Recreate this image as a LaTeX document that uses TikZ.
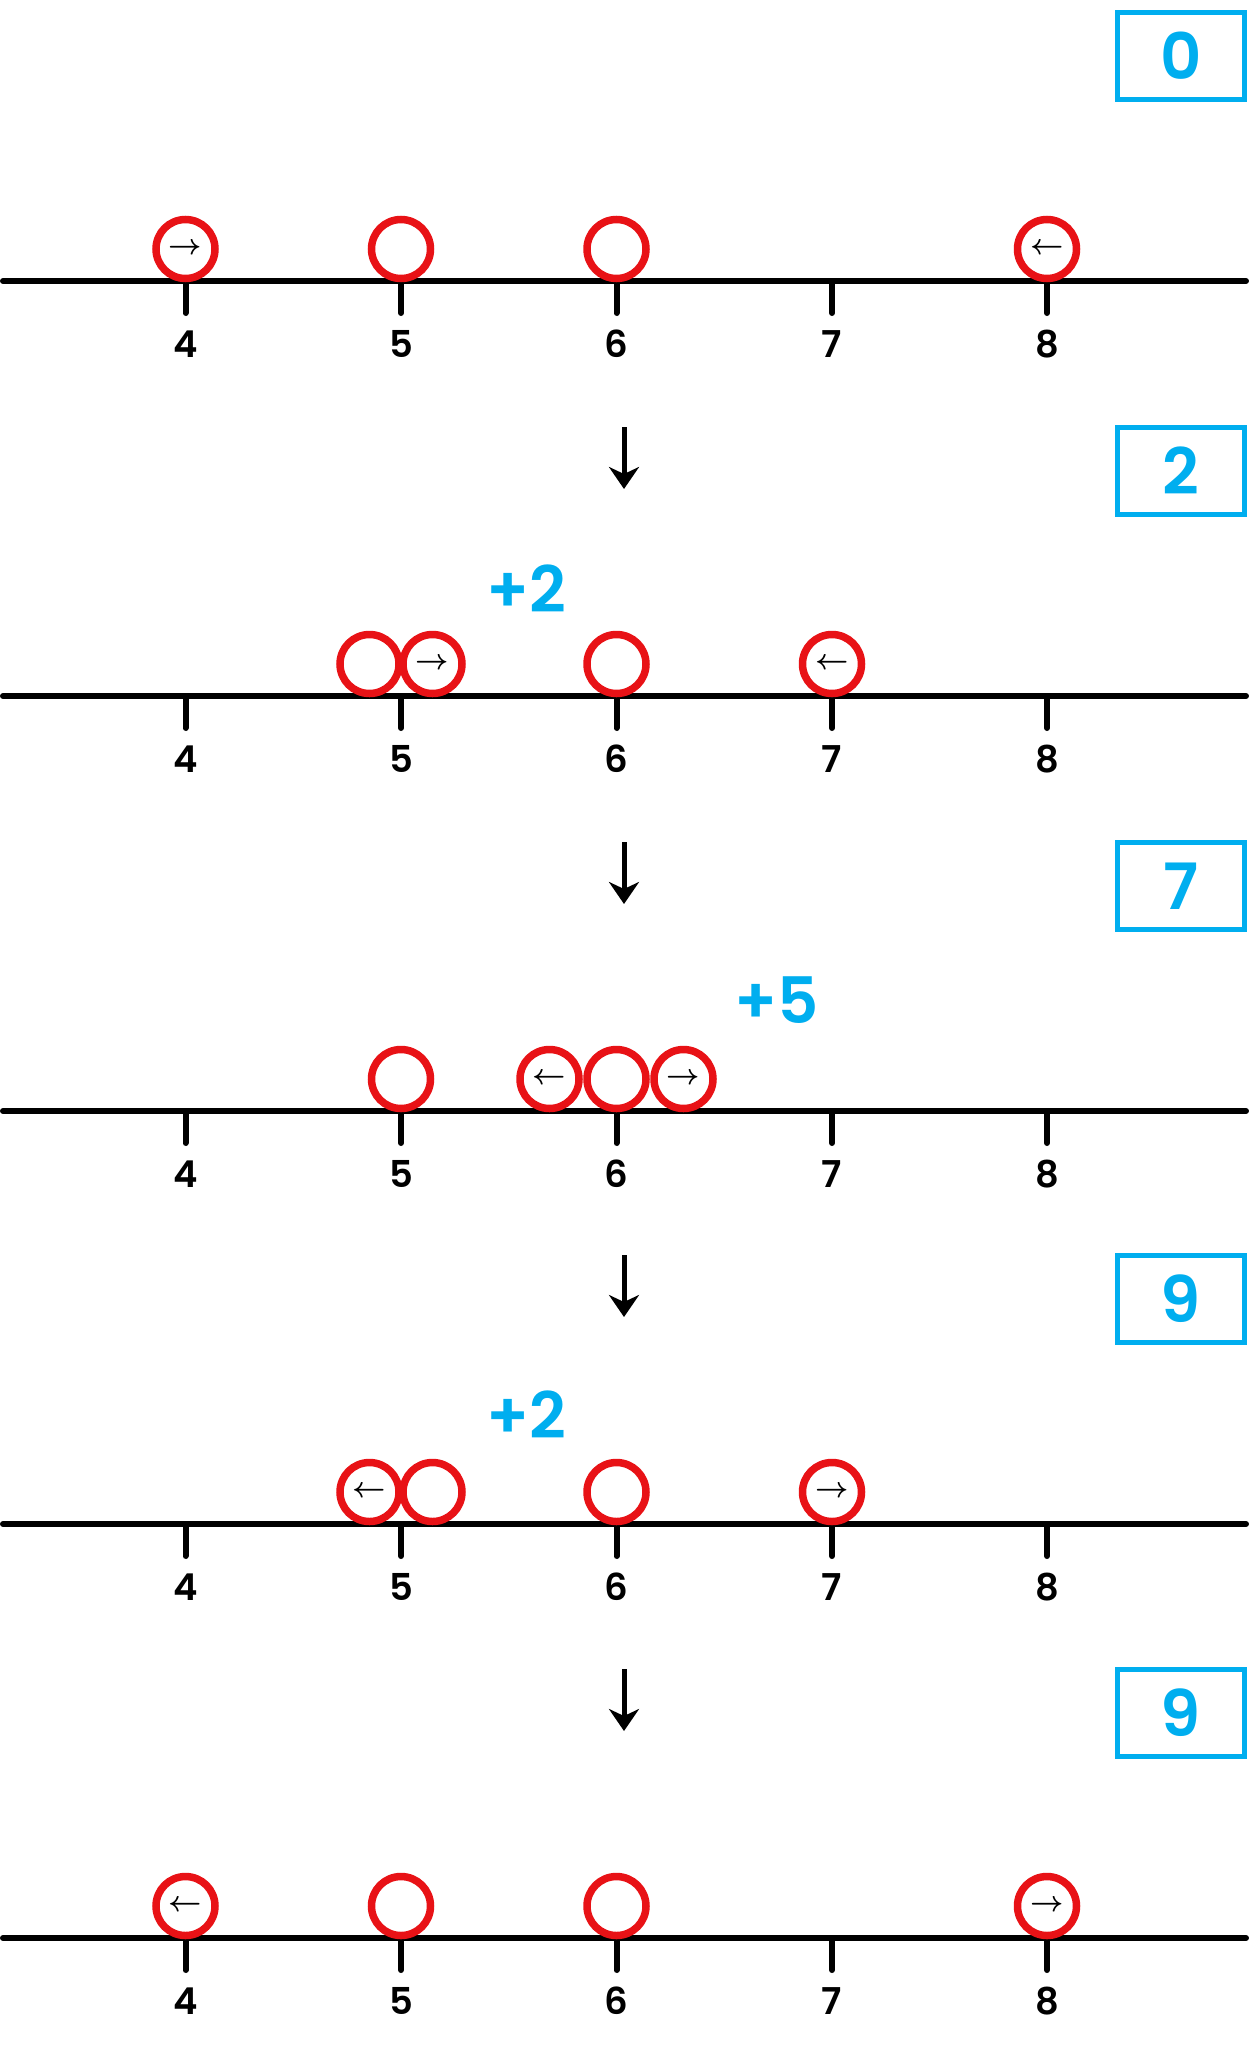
\documentclass[tikz,border=0pt]{standalone}
\usepackage{fontspec}
\newfontfamily\pop{Poppins SemiBold}
\usetikzlibrary{arrows.meta}
\definecolor{ringred}{RGB}{232,18,22}
\definecolor{cyanblue}{RGB}{0,174,239}
\tikzset{
  ring/.style={circle,draw=ringred,line width=7.5pt,minimum size=59pt,inner sep=0pt},
  axisline/.style={line width=6pt,line cap=round},
  tickmark/.style={line width=6pt,line cap=round},
  ticklabel/.style={font=\pop\fontsize{37}{40}\selectfont,inner sep=0pt},
  scorebox/.style={draw=cyanblue,line width=5pt,minimum width=127pt,minimum height=87pt,inner sep=0pt,text=cyanblue,font=\pop\fontsize{64}{66}\selectfont},
  gainlabel/.style={text=cyanblue,font=\pop\fontsize{64}{66}\selectfont,inner sep=0pt},
  downarrow/.style={line width=5pt,-{Stealth[length=22pt,width=30pt,inset=7pt]}},
}
\newcommand{\ra}{\scalebox{2.9}{\boldmath$\rightarrow$}}
\newcommand{\la}{\scalebox{2.9}{\boldmath$\leftarrow$}}
\begin{document}
\begin{tikzpicture}[x=1pt,y=-1pt]
\useasboundingbox (0,0) rectangle (1249,2048);
% tick x positions
\def\xA{185.5}\def\xB{401}\def\xC{616.5}\def\xD{832}\def\xE{1047}
% number lines
\foreach \r/\L in {0/281,1/696,2/1111,3/1524,4/1938}{
  \coordinate (l\r) at (3,\L);
  \coordinate (r\r) at (1246,\L);
  \draw[axisline] (l\r) -- (r\r);
  \foreach \n/\x in {4/\xA,5/\xB,6/\xC,7/\xD,8/\xE}{
    \coordinate (t\r n\n) at (\x,\L);
    \coordinate (b\r n\n) at (\x,\L+32);
    \draw[tickmark] (t\r n\n) -- (b\r n\n);
    \node[ticklabel] (lab\r n\n) at (\x,\L+63) {\n};
  }
}
% score boxes
\node[scorebox] (box0) at (1181,56) {0};
\node[scorebox] (box1) at (1181,471) {2};
\node[scorebox] (box2) at (1181,886) {7};
\node[scorebox] (box3) at (1181,1299) {9};
\node[scorebox] (box4) at (1181,1713) {9};
% down arrows
\foreach \i/\L in {1/696,2/1111,3/1524,4/1938}{
  \coordinate (as\i) at (624,\L-269);
  \coordinate (ae\i) at (624,\L-207);
  \draw[downarrow] (as\i) -- (ae\i);
}
% gain labels
\node[gainlabel] (g1) at (526.5,589) {+2};
\node[gainlabel] (g2) at (777,1000) {+5};
\node[gainlabel] (g3) at (526.5,1415) {+2};
% row 0
\node[ring] (c00) at (\xA,249) {\ra};
\node[ring] (c01) at (\xB,249) {};
\node[ring] (c02) at (\xC,249) {};
\node[ring] (c03) at (\xE,249) {\la};
% row 1
\node[ring] (c10) at (\xB-31.5,664) {};
\node[ring] (c11) at (\xB+31.5,664) {\ra};
\node[ring] (c12) at (\xC,664) {};
\node[ring] (c13) at (\xD,664) {\la};
% row 2
\node[ring] (c20) at (\xB,1079) {};
\node[ring] (c21) at (\xC-67,1079) {\la};
\node[ring] (c22) at (\xC,1079) {};
\node[ring] (c23) at (\xC+67,1079) {\ra};
% row 3
\node[ring] (c30) at (\xB-31.5,1492) {\la};
\node[ring] (c31) at (\xB+31.5,1492) {};
\node[ring] (c32) at (\xC,1492) {};
\node[ring] (c33) at (\xD,1492) {\ra};
% row 4
\node[ring] (c40) at (\xA,1906) {\la};
\node[ring] (c41) at (\xB,1906) {};
\node[ring] (c42) at (\xC,1906) {};
\node[ring] (c43) at (\xE,1906) {\ra};
\end{tikzpicture}
\end{document}
